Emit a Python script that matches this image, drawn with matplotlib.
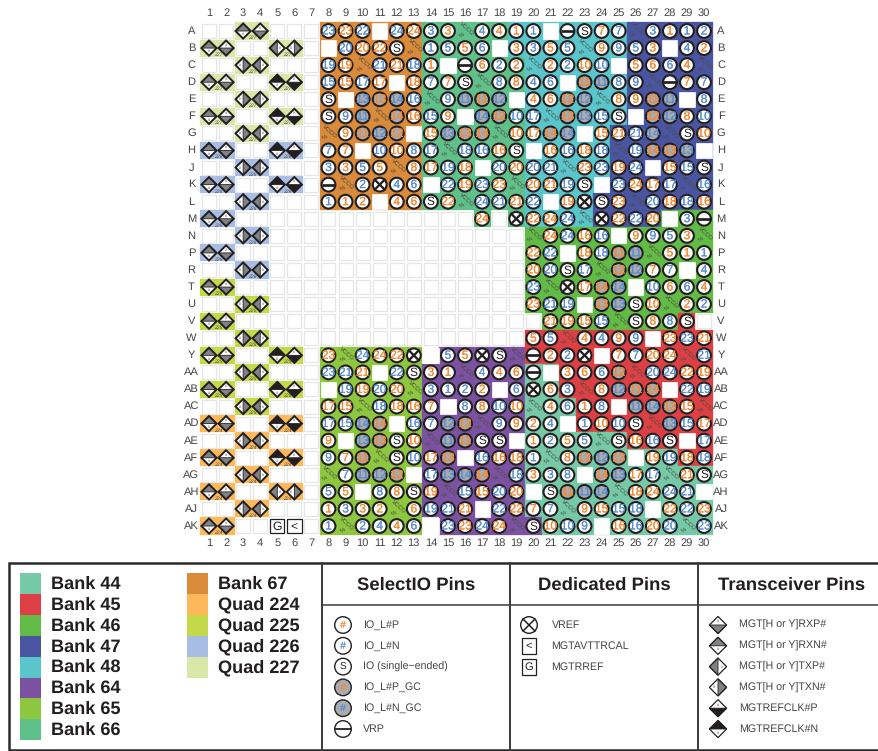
import matplotlib
matplotlib.use('Agg')
import matplotlib.pyplot as plt
import matplotlib.patheffects as pe
from matplotlib.patches import Circle, Rectangle, Polygon

plt.rcParams['font.family'] = ['Liberation Sans', 'DejaVu Sans']
plt.rcParams['text.hinting'] = 'none'

COL_LABELS = [str(i) for i in range(1, 31)]
ROW_LABELS = ['A', 'B', 'C', 'D', 'E', 'F', 'G', 'H', 'J', 'K', 'L', 'M', 'N', 'P', 'R', 'T', 'U', 'V', 'W', 'Y',
              'AA', 'AB', 'AC', 'AD', 'AE', 'AF', 'AG', 'AH', 'AJ', 'AK']

# columns 1-7
TRANSCEIVER_PINS = [
    '. . rn rp . . .', 'rn rp . . tp tn .', '. . tn tp . . .', 'rn rp . . cn cp .', '. . tn tp . . .',
    'rn rp . . cn cp .', '. . tn tp . . .', 'rn rp . . cn cp .', '. . tn tp . . .', 'rn rp . . cn cp .',
    '. . tn tp . . .', 'rn rp . . . . .', '. . tn tp . . .', 'rn rp . . . . .', '. . tn tp . . .',
    'rn rp . . . . .', '. . tn tp . . .', 'rn rp . . . . .', '. . tn tp . . .', 'rn rp . . cn cp .',
    '. . tn tp . . .', 'rn rp . . cn cp .', '. . tn tp . . .', 'rn rp . . cn cp .', '. . tn tp . . .',
    'rn rp . . cn cp .', '. . tn tp . . .', 'rn rp . . tp tn .', '. . tn tp . . .', 'rn rp . . G < .',
]

# columns 8-30: o/b = IO_L P/N, O/B = the _GC versions, W = empty cell inside a bank
FPGA_PINS = [
    'b23 o23 b22 W b24 o24 b3 o3 V b4 o4 o1 b1 W R S o7 b7 V b3 o1 b1 b2',
    'W b20 o20 o22 S V b1 b5 o5 b6 W o3 b3 o5 b5 V o9 b9 b5 o3 W b4 o2',
    'b19 o19 V b21 o21 b18 o1 W R o6 b2 o2 V o2 b2 o10 b10 W o5 o6 b6 o4 V',
    'b15 o15 b17 o17 W o18 b7 o7 S V b8 o8 b4 b6 W O11 B11 b8 b9 V R o7 b7',
    'S W B13 O13 B14 b16 V b9 B11 O11 B12 W o4 o6 O12 B12 V o8 o9 O11 B11 W b8',
    'S b9 B11 V O14 o16 b15 o9 W B14 O12 b10 b17 V O13 B13 b15 S W O12 B12 o8 b10',
    'V o9 O11 B12 O12 W o15 B13 O13 O14 V o10 o17 O14 B14 W o15 o21 b21 B14 V S o10',
    'b7 o7 W b10 o10 b8 b17 V b18 b16 o16 S W o16 b16 o18 b18 V b19 O14 O13 B13 W',
    'b3 o3 b5 o5 V o8 o17 b19 o18 W b20 o20 b20 b21 V o23 b23 o19 b24 W o15 b15 S',
    'R V b2 X b4 b6 W b22 o19 b23 o23 V o20 o21 b19 S W b23 o24 o17 b17 V b16',
    'b1 o1 o2 W o4 o6 S o22 V b24 b21 o21 b22 W o19 X S o23 V b20 o18 b18 o16',
    '. . . . . . . . . o24 . X o22 o24 b24 V X o22 b22 o20 W b3 R',
    '. . . . . . . . . . . . V o24 b24 o16 b16 W o9 b9 b5 o3 V',
    '. . . . . . . . . . . . o22 b22 W o18 b18 O11 B11 V o5 o1 b1',
    '. . . . . . . . . . . . o20 b20 S b17 V O12 B12 o7 b7 W b4',
    '. . . . . . . . . . . . b23 V X o17 O14 B14 W b10 o6 b6 o4',
    '. . . . . . . . . . . . o23 b21 b19 W O13 B13 S o10 V o2 b2',
    '. . . . . . . . . . . . . o21 o19 o15 b15 V S o8 b8 S .',
    '. . . . . . . . . . . . o5 b5 V o4 b4 o9 b9 W o23 b23 o21',
    'o23 V b24 o24 o22 X W b5 o5 X S V R o2 b2 X W o7 b7 o20 o24 V b21',
    'b23 b21 o21 W b22 S o3 o1 V b4 o4 o6 R W o3 o6 b6 O12 V b20 b24 o22 o19',
    'W b19 o19 b20 o20 V b3 b1 b2 o2 W b6 X o6 b3 V o8 B12 O11 O14 W b22 b19',
    'o17 o15 V b18 o18 o16 o7 W b8 o8 b10 o10 V o4 b6 o1 b8 W B11 B14 O13 o15 V',
    'b17 b15 B14 O14 W b16 b7 B12 O12 V b9 o9 o2 b4 W b1 o10 b10 S V B13 b15 o17',
    'o9 W B13 O13 S o10 V B11 O11 S S W o1 b2 o5 b5 V S o16 b16 S W b17',
    'b9 o7 O11 V S b10 o17 O13 W b16 o16 o18 b1 V o8 O12 B12 O13 W o19 b19 o18 b18',
    'V b7 B11 B12 O12 W b17 B13 B14 O14 V b18 o3 b3 b8 W O14 B13 o17 b17 V o21 S',
    'b5 o5 W b8 o8 S o19 V b15 o15 b20 o20 W S O11 B11 B14 V o18 o24 b24 b21 W',
    'o1 b3 o3 o2 V o6 b19 b21 o21 W b22 o22 o7 b7 V o9 o15 b15 b18 W o22 b22 o23',
    'b1 V b2 b4 o4 b6 W b23 o23 b24 o24 V S o10 b10 b9 W o16 b16 o20 b20 V b23',
]

# a-i are the banks in LEGEND_NAMES order, 4-7 the quads
BANK_ROWS = [
    '..77...iiiiiihhhhheeeeeeeddddd',
    '77..77.iiiiiihhhhheeeeeeeddddd',
    '..77...iiiiiihhhhhheeeeeeddddd',
    '77..77.iiiiiihhhhhheeeeeeddddd',
    '..77...iiiiiihhhhhheeeeeeddddd',
    '77..77.iiiiiihhhhhheeeeeeddddd',
    '..77...iiiiiihhhhhheeeeedddddd',
    '66..66.iiiiiihhhhhheeeeedddddd',
    '..66...iiiiiihhhhhheeeeedddddd',
    '66..66.iiiiiihhhhhheeeeedddddd',
    '..66...iiiiiihhhhhheeeeddddddd',
    '66..............h.heeeeddddccc',
    '..66...............ccccccccccc',
    '66.................ccccccccccc',
    '..66...............ccccccccccc',
    '55.................ccccccccccc',
    '..55...............ccccccccccc',
    '55..................ccccccccb.',
    '..55...............bbbbbbbbbbb',
    '55..55.gggggg.fffffbbbbbbbbbbb',
    '..55...ggggggffffffaabbbbbbbbb',
    '55..55.ggggggffffffaabbbbbbbbb',
    '..55...ggggggffffffaaabbbbbbbb',
    '44..44.ggggggffffffaaabbbbbbbb',
    '..44...ggggggffffffaaaaaabbbbb',
    '44..44.ggggggffffffaaaaaaaaabb',
    '..44...ggggggffffffaaaaaaaaaaa',
    '44..44.ggggggffffffaaaaaaaaaaa',
    '..44...ggggggffffffaaaaaaaaaaa',
    '44.....gggggg.ffffffaaaaaaaaaa',
]

BANK_CODES = ['a', 'b', 'c', 'd', 'e', 'f', 'g', 'h', 'i', '4', '5', '6', '7']
LEGEND_NAMES = ['Bank 44', 'Bank 45', 'Bank 46', 'Bank 47', 'Bank 48', 'Bank 64', 'Bank 65', 'Bank 66',
                'Bank 67', 'Quad 224', 'Quad 225', 'Quad 226', 'Quad 227']
LEGEND_COLORS = ['#76c9a6', '#dd4044', '#62bb46', '#4a55a2', '#5ac6cc', '#7b52a1', '#8dc63f', '#5fc08a',
                 '#d98a3b', '#fdb85a', '#c3d94a', '#a8bde3', '#d9e8a8']
QUAD_NUMBERS = {'4': '224', '5': '225', '6': '226', '7': '227'}

SELECTIO_LABELS = ['IO_L#P', 'IO_L#N', 'IO (single\u2212ended)', 'IO_L#P_GC', 'IO_L#N_GC', 'VRP']
SELECTIO_TOKENS = ['o#', 'b#', 'S', 'O#', 'B#', 'R']
DEDICATED_LABELS = ['VREF', 'MGTAVTTRCAL', 'MGTRREF']
DEDICATED_TOKENS = ['X', '<', 'G']
TRANSCEIVER_LABELS = ['MGT[H or Y]RXP#', 'MGT[H or Y]RXN#', 'MGT[H or Y]TXP#', 'MGT[H or Y]TXN#',
                      'MGTREFCLK#P', 'MGTREFCLK#N']
TRANSCEIVER_TOKENS = ['rp', 'rn', 'tp', 'tn', 'cp', 'cn']

ORANGE = '#f58a33'
BLUE = '#5b8fd3'
GC_GRAY = '#a9abae'
DIAMOND_GRAY = '#808285'
INK = '#231f20'
LABEL_GRAY = '#454545'

X0, Y0 = 209.0, 31.0
PITCH = 17.07


def cell_xy(col, row):
    return X0 + col * PITCH, Y0 + row * PITCH


def draw_circle_pin(ax, x, y, token, r=6.9, lw=1.5, size=8.6, stroke=0.12):
    kind = token[0]
    face = GC_GRAY if kind in 'OB' else 'white'
    ax.add_patch(Circle((x, y), r, fc=face, ec=INK, lw=lw, zorder=3))
    if kind in 'oOBb':
        color = ORANGE if kind in 'oO' else BLUE
        t = ax.text(x, y + 0.3, token[1:], color=color, fontsize=size, ha='center', va='center', zorder=4)
        t.set_path_effects([pe.withStroke(linewidth=stroke, foreground=color)])
    elif kind == 'S':
        ax.text(x, y + 0.3, 'S', color=INK, fontsize=size, ha='center', va='center', zorder=4)
    elif kind == 'R':
        ax.plot([x - r, x + r], [y, y], color=INK, lw=lw * 1.3, solid_capstyle='butt', zorder=4)
    elif kind == 'X':
        d = r * 0.72
        ax.plot([x - d, x + d], [y - d, y + d], color=INK, lw=lw * 1.1, zorder=4)
        ax.plot([x - d, x + d], [y + d, y - d], color=INK, lw=lw * 1.1, zorder=4)


def draw_diamond_pin(ax, x, y, token, r=7.6, lw=1.4):
    top, bottom, left, right = (x, y - r), (x, y + r), (x - r, y), (x + r, y)
    # first half polygon is the coloured one, the other half stays white
    if token == 'rp':
        half, color, mark = [left, right, bottom], DIAMOND_GRAY, (x, y - r * 0.42)
    elif token == 'rn':
        half, color, mark = [left, right, top], DIAMOND_GRAY, (x, y + r * 0.42)
    elif token == 'tp':
        half, color, mark = [top, bottom, left], DIAMOND_GRAY, (x + r * 0.42, y)
    elif token == 'tn':
        half, color, mark = [top, bottom, right], DIAMOND_GRAY, (x - r * 0.42, y)
    elif token == 'cp':
        half, color, mark = [left, right, bottom], INK, (x, y - r * 0.42)
    else:
        half, color, mark = [left, right, top], INK, (x, y + r * 0.42)
    ax.add_patch(Polygon([top, right, bottom, left], closed=True, fc='white', ec='none', zorder=3))
    ax.add_patch(Polygon(half, closed=True, fc=color, ec=INK, lw=0.6, zorder=3))
    ax.add_patch(Polygon([top, right, bottom, left], closed=True, fc='none', ec=INK, lw=lw, zorder=4))
    ax.text(mark[0], mark[1], '#', color='#555555', fontsize=2.8, ha='center', va='center', zorder=5)


def draw_box_pin(ax, x, y, token, half=7.2):
    ax.add_patch(Rectangle((x - half, y - half), 2 * half, 2 * half, fc='white', ec=INK, lw=0.9, zorder=3))
    ax.text(x, y + 0.3, token, color=INK, fontsize=8.7, ha='center', va='center', zorder=4)


def draw_vcco(ax, x, y, color):
    ax.text(x + 1.5, y - 2.0, 'VCCO', color=color, fontsize=4.4, rotation=-42, ha='center', va='center',
            rotation_mode='anchor', zorder=3)
    ax.text(x - 3.0, y + 3.8, '%', color=color, fontsize=4.2, rotation=35, ha='center', va='center', zorder=3)


def draw_pin(ax, x, y, token):
    if token in ('rp', 'rn', 'tp', 'tn', 'cp', 'cn'):
        draw_diamond_pin(ax, x, y, token)
    elif token in ('G', '<'):
        draw_box_pin(ax, x, y, token)
    else:
        draw_circle_pin(ax, x, y, token)


fig = plt.figure(figsize=(8.79, 7.51), dpi=100)
ax = fig.add_axes([0, 0, 1, 1])
ax.set_xlim(0, 879)
ax.set_ylim(751, 0)
ax.axis('off')

bank_color = dict(zip(BANK_CODES, LEGEND_COLORS))

# bank backgrounds first, so neighbouring cells join up
for r, codes in enumerate(BANK_ROWS):
    for c, code in enumerate(codes):
        if code == '.':
            continue
        x, y = cell_xy(c, r)
        ax.add_patch(Rectangle((x - PITCH / 2, y - PITCH / 2), PITCH, PITCH, fc=bank_color[code], ec=bank_color[code],
                               lw=0.2, zorder=1))

for r, label in enumerate(ROW_LABELS):
    tokens = TRANSCEIVER_PINS[r].split() + FPGA_PINS[r].split()
    for c, token in enumerate(tokens):
        x, y = cell_xy(c, r)
        code = BANK_ROWS[r][c]
        if token == '.':
            ax.add_patch(Rectangle((x - 7, y - 7), 14, 14, fc='white', ec='#e6e6e6', lw=0.9, zorder=2))
        elif token == 'W':
            ax.add_patch(Rectangle((x - 7.6, y - 7.6), 15.2, 15.2, fc='white', ec='white', lw=0.5, zorder=2))
        elif token == 'V':
            draw_vcco(ax, x, y, '#4a4a3c')
        else:
            draw_pin(ax, x, y, token)
        if code in QUAD_NUMBERS and c % 2 == 0:
            ax.text(x + PITCH / 2 + 1, y + 6.6, QUAD_NUMBERS[code], color='#4d4d4d', fontsize=3.6,
                    style='italic', ha='center', va='center', zorder=6)

for c, label in enumerate(COL_LABELS):
    x, _ = cell_xy(c, 0)
    ax.text(x, 13.5, label, color=LABEL_GRAY, fontsize=8, ha='center', va='center')
    ax.text(x, 543, label, color=LABEL_GRAY, fontsize=8, ha='center', va='center')
for r, label in enumerate(ROW_LABELS):
    _, y = cell_xy(0, r)
    ax.text(191.5, y, label, color=LABEL_GRAY, fontsize=8, ha='center', va='center')
    ax.text(721, y, label, color=LABEL_GRAY, fontsize=8, ha='center', va='center')

# legend frame, it runs off the right edge of the picture
ax.plot([880, 9.5, 9.5, 880], [563, 563, 750, 750], color='#2b2b2b', lw=1.8, solid_joinstyle='miter')
for xd in [322, 510, 698]:
    ax.plot([xd, xd], [563, 750], color='#3a3a3a', lw=1.4)
ax.plot([322, 880], [604.5, 604.5], color='#3a3a3a', lw=1.1)

for i, (name, color) in enumerate(zip(LEGEND_NAMES, LEGEND_COLORS)):
    col = 0 if i < 8 else 1
    row = i if i < 8 else i - 8
    sx = [20, 187][col]
    sy = 573 + row * 20.9
    ax.add_patch(Rectangle((sx, sy), 21, 20.9, fc=color, ec='none'))
    ax.text([51.5, 218][col], sy + 11, name, color=INK, fontsize=13.1, fontweight='bold', ha='left', va='center')

for title, xc in [('SelectIO Pins', 416), ('Dedicated Pins', 604), ('Transceiver Pins', 792)]:
    ax.text(xc, 585, title, color=INK, fontsize=13.3, fontweight='bold', ha='center', va='center')

LEGEND_STEP = 20.8
for i, (token, label) in enumerate(zip(SELECTIO_TOKENS, SELECTIO_LABELS)):
    y = 625 + i * LEGEND_STEP
    draw_circle_pin(ax, 343, y, token, r=8.3, lw=1.0, size=7.2, stroke=0.05)
    ax.text(363, y, label, color=LABEL_GRAY, fontsize=7.7, ha='left', va='center')
for i, (token, label) in enumerate(zip(DEDICATED_TOKENS, DEDICATED_LABELS)):
    y = 625 + i * LEGEND_STEP
    if token == 'X':
        draw_circle_pin(ax, 529, y, token, r=8.3, lw=1.0, size=7.2)
    else:
        ax.add_patch(Rectangle((529 - 7.3, y - 8), 14.6, 16, fc='white', ec=INK, lw=0.9, zorder=3))
        ax.text(529, y + 0.3, token, color=INK, fontsize=8, ha='center', va='center', zorder=4)
    ax.text(551.5, y, label, color=LABEL_GRAY, fontsize=7.7, ha='left', va='center')
for i, (token, label) in enumerate(zip(TRANSCEIVER_TOKENS, TRANSCEIVER_LABELS)):
    y = 625 + i * LEGEND_STEP
    draw_diamond_pin(ax, 718, y, token, r=8.6, lw=0.9)
    ax.text(739, y, label, color=LABEL_GRAY, fontsize=7.7, ha='left', va='center')

fig.savefig('out.png', dpi=100)
